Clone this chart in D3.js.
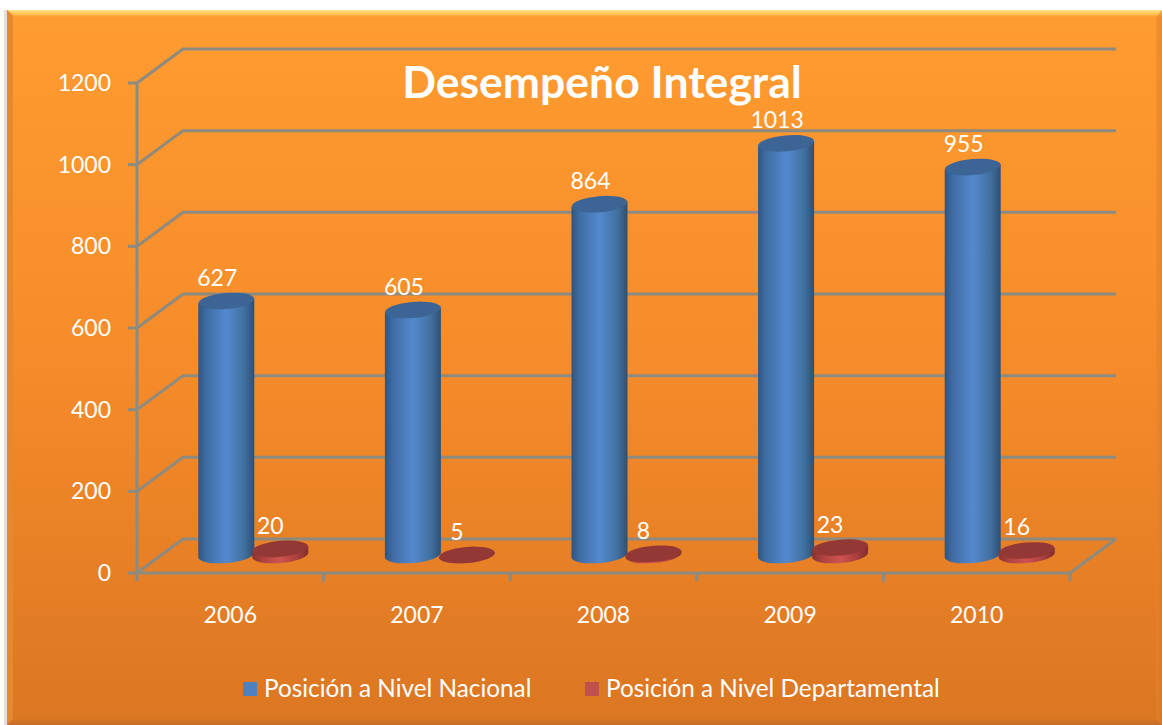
<!DOCTYPE html>
<html><head><meta charset="utf-8">
<script src="https://cdn.jsdelivr.net/npm/d3@7/dist/d3.min.js"></script>
<style>html,body{margin:0;padding:0;background:#fff}svg{display:block}text{font-family:Lato,"Open Sans",sans-serif}</style>
</head><body><svg id="c" width="1162" height="725"></svg>
<script>
const categories=["2006","2007","2008","2009","2010"];
const nacional=[627,605,864,1013,955];
const departamental=[20,5,8,23,16];
const yTicks=[0,200,400,600,800,1000,1200];
const seriesNames=["Posición a Nivel Nacional","Posición a Nivel Departamental"];
const titleText="Desempeño Integral";

const W=1162,H=725,svg=d3.select("#c");
const x=d3.scaleBand().domain(categories).range([137,1070]).padding(0);
const y=d3.scaleLinear().domain([0,1200]).range([573,83]);
const DX=46,DY=-34,BASE=-18,TOPOFF=-16,RX=28,RY=8,TILT=-5;
const tx=RX*Math.sin(TILT*Math.PI/180)*-1;
const defs=svg.append("defs");
function grad(id,attrs,stops){const g=defs.append("linearGradient").attr("id",id);
 Object.entries(attrs).forEach(([k,v])=>g.attr(k,v));
 stops.forEach(([o,c])=>g.append("stop").attr("offset",o).attr("stop-color",c));}
grad("bg",{x1:0,y1:0,x2:0,y2:1},[[0,"#ff9c30"],[.5,"#f58b2a"],[1,"#db7622"]]);
grad("blue",{x1:0,y1:0,x2:1,y2:0},[[0,"#2f5580"],[.14,"#3f6ca3"],[.5,"#5489cf"],[.82,"#41709f"],[1,"#2e4f74"]]);
grad("red",{x1:0,y1:0,x2:1,y2:0},[[0,"#8a3230"],[.2,"#b04340"],[.5,"#cf5350"],[.8,"#a83f3d"],[1,"#7f2e2c"]]);
grad("topB",{x1:0,y1:0,x2:0,y2:1},[[0,"#ffe38a"],[.5,"#ffc95a"],[1,"#ff9c30"]]);
grad("rightB",{x1:0,y1:0,x2:1,y2:0},[[0,"#e98428"],[1,"#d47a2a"]]);
grad("botB",{x1:0,y1:0,x2:0,y2:1},[[0,"#d97522"],[1,"#c26e2a"]]);

// frame
const L=7,T=10,R=W,B=H,b=6;
svg.append("rect").attr("x",L).attr("y",T).attr("width",R-L).attr("height",B-T).attr("fill","url(#bg)");
svg.append("path").attr("d",`M${L},${T}H${R}V${T+7}H${L+b+3}Z`).attr("fill","url(#topB)");
svg.append("path").attr("d",`M${L},${T}L${L+b},${T+7}V${B-b}L${L},${B}Z`).attr("fill","#e5892c");
svg.append("path").attr("d",`M${R},${T}L${R-b},${T+7}V${B-b}L${R},${B}Z`).attr("fill","url(#rightB)").attr("opacity",.5);
svg.append("path").attr("d",`M${L},${B}L${L+b},${B-b}H${R-b}L${R},${B}Z`).attr("fill","url(#botB)");
svg.append("rect").attr("x",L-3).attr("y",T).attr("width",3).attr("height",B-T).attr("fill","#bbb").attr("opacity",.45);

// walls
const GRID="#8d8a80";
const g=svg.append("g").attr("fill","none").attr("stroke",GRID).attr("stroke-width",3);
g.selectAll(".grid").data(yTicks).join("path").attr("class","grid")
 .attr("d",v=>`M${x.range()[0]},${y(v)}L${x.range()[0]+DX},${y(v)+DY}H${x.range()[1]+DX}`);
g.append("path").attr("d",`M${x.range()[0]},${y(1200)}V${y(0)}H${x.range()[1]}L${x.range()[1]+DX},${y(0)+DY}`);
g.selectAll(".yt").data(yTicks).join("line").attr("class","yt")
 .attr("x1",x.range()[0]-9).attr("x2",x.range()[0]).attr("y1",v=>y(v)).attr("y2",v=>y(v));
const edges=categories.map(c=>x(c)).concat([x.range()[1]]);
g.selectAll(".xt").data(edges).join("line").attr("class","xt")
 .attr("x1",d=>d).attr("x2",d=>d).attr("y1",y(0)).attr("y2",y(0)+8);

// axis labels
const FS=23;
svg.append("g").selectAll("text").data(yTicks).join("text")
 .attr("x",x.range()[0]-26).attr("y",v=>y(v)+8).attr("text-anchor","end")
 .attr("fill","#fff").attr("font-size",FS).text(d=>d);
svg.append("g").selectAll("text").data(categories).join("text")
 .attr("x",c=>x(c)+x.bandwidth()/2).attr("y",623).attr("text-anchor","middle")
 .attr("fill","#fff").attr("font-size",FS).text(d=>d);

// cylinders
function cyl(cx,v,fill,top){
 const by=y(0)+BASE, ty=y(v)+TOPOFF;
 const s=d3.select(this);
 s.append("path").attr("fill",fill)
  .attr("d",`M${cx-RX},${ty+tx}L${cx-RX},${by+tx}A${RX} ${RY} ${TILT} 0 0 ${cx+RX},${by-tx}L${cx+RX},${ty-tx}Z`);
 s.append("ellipse").attr("cx",0).attr("cy",0).attr("rx",RX).attr("ry",RY)
  .attr("transform",`translate(${cx},${ty}) rotate(${TILT})`).attr("fill",top);
}
const bars=svg.append("g");
categories.forEach((c,i)=>{
 const mid=x(c)+x.bandwidth()/2;
 bars.append("g").each(function(){cyl.call(this,mid-4,nacional[i],"url(#blue)","#3c6494");});
 bars.append("g").each(function(){cyl.call(this,mid+50,departamental[i],"url(#red)","#943835");});
 bars.append("text").attr("x",mid-13).attr("y",y(nacional[i])+BASE-13).attr("text-anchor","middle")
  .attr("fill","#fff").attr("font-size",FS).text(nacional[i]);
 bars.append("text").attr("x",mid+40).attr("y",y(departamental[i])+BASE-13).attr("text-anchor","middle")
  .attr("fill","#fff").attr("font-size",FS).text(departamental[i]);
});

// title
svg.append("text").attr("x",602).attr("y",98).attr("text-anchor","middle").attr("fill","#fff")
 .attr("font-size",44.5).attr("font-weight",700).text(titleText);

// legend
const legendColors=["#4f81bd","#c0504d"],lx=[243,585];
const lg=svg.append("g").selectAll("g").data(seriesNames).join("g");
lg.append("rect").attr("x",(d,i)=>lx[i]).attr("y",682).attr("width",14).attr("height",14).attr("fill",(d,i)=>legendColors[i]);
lg.append("text").attr("x",(d,i)=>lx[i]+21).attr("y",697).attr("fill","#fff").attr("font-size",24.3).text(d=>d);
</script></body></html>
